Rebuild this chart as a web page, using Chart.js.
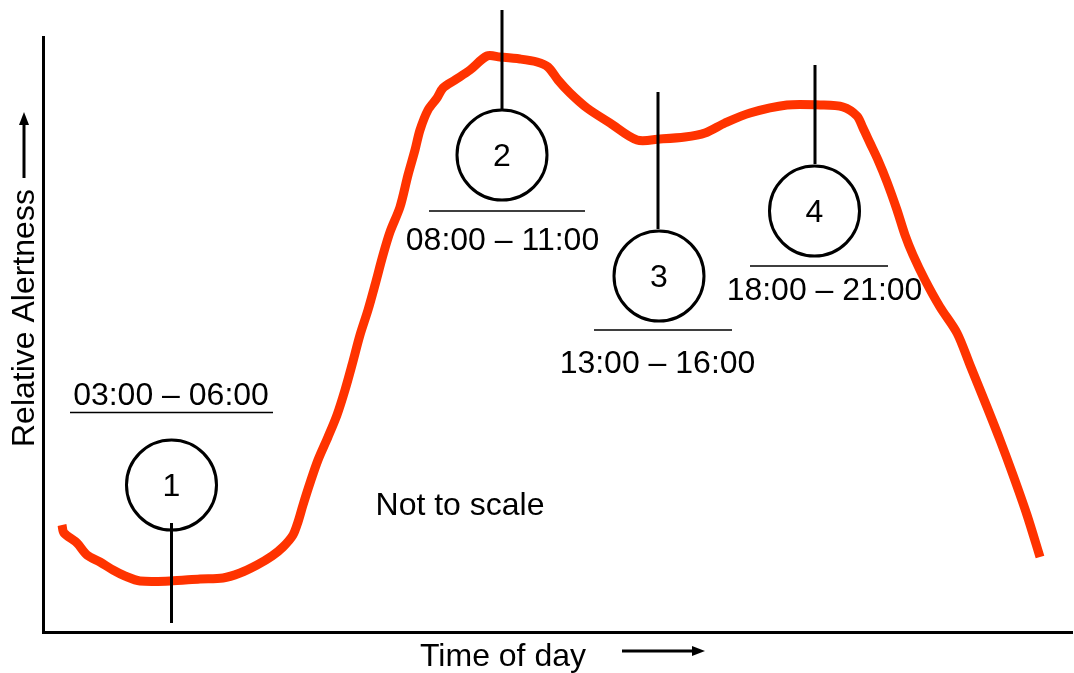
<!DOCTYPE html>
<html>
<head>
<meta charset="utf-8">
<script src="https://cdn.jsdelivr.net/npm/chart.js@4/dist/chart.umd.min.js"></script>
<style>
  html, body { margin: 0; padding: 0; background: #ffffff; }
  canvas { display: block; }
</style>
</head>
<body>
<canvas id="c" width="1074" height="673"></canvas>
<script>
// ---- Data (arbitrary "not to scale" units) ----
const curveX = [19, 21, 34, 44, 57, 70, 82, 97, 127, 157, 180, 197, 214, 229, 240, 250, 255, 260, 267, 275, 285, 294, 302, 309, 317, 325, 332, 340, 347, 357, 365, 372, 377, 385, 394, 400, 412, 427, 444, 457, 477, 494, 505, 515, 527, 544, 567, 594, 617, 642, 662, 682, 707, 744, 777, 800, 814, 820, 827, 835, 844, 854, 862, 870, 882, 897, 914, 927, 944, 957, 970, 984, 997];
const curveY = [107, 99, 89, 77, 70, 62, 56, 51, 51, 53, 54, 59, 67, 76, 85, 97, 110, 127, 149, 172, 195, 217, 242, 267, 297, 322, 347, 377, 400, 425, 457, 482, 502, 522, 534, 544, 552, 562, 576, 575, 573, 570, 565, 552, 539, 524, 509, 492, 493, 495, 499, 509, 519, 527, 527, 525, 516, 504, 489, 472, 450, 422, 397, 377, 352, 325, 299, 267, 225, 192, 157, 117, 75];

const markerNumbers = ['1', '2', '3', '4'];
const markerX = [128.5, 459, 616, 771.5];
const markerY = [147, 477, 356, 421];

const stemX = [128.5, 459, 615, 772];
const stemFrom = [109, 622, 540, 567];
const stemTo = [9, 523, 403, 468];

const windowLabels = ['03:00 – 06:00', '08:00 – 11:00', '13:00 – 16:00', '18:00 – 21:00'];
const labelX = [128, 459.5, 614.5, 781.5];
const labelY = [227, 382, 259, 332];

const underlineStart = [27, 386, 551, 707];
const underlineEnd = [230, 542, 689, 845];
const underlineY = [219.5, 421, 302, 366];

const noteText = 'Not to scale';
const noteX = 417;
const noteY = 117;

const xTitle = 'Time of day';
const yTitle = 'Relative Alertness';

// ---- Build datasets ----
const curveData = curveX.map((x, i) => ({ x: x, y: curveY[i] }));
const circleData = markerX.map((x, i) => ({ x: x, y: markerY[i] }));
const stemData = [];
stemX.forEach((x, i) => {
  stemData.push({ x: x, y: stemFrom[i] });
  stemData.push({ x: x, y: stemTo[i] });
  stemData.push({ x: x, y: null });
});
const underlineData = [];
underlineY.forEach((y, i) => {
  underlineData.push({ x: underlineStart[i], y: y });
  underlineData.push({ x: underlineEnd[i], y: y });
  underlineData.push({ x: underlineEnd[i], y: null });
});

const FONT = "'Liberation Sans', Arial, sans-serif";

const textPlugin = {
  id: 'textPlugin',
  afterDraw(chart) {
    const ctx = chart.ctx;
    const xs = chart.scales.x, ys = chart.scales.y;
    const ca = chart.chartArea;
    ctx.save();
    ctx.fillStyle = '#000';
    ctx.font = '32px ' + FONT;
    // circle numbers
    ctx.textAlign = 'center';
    ctx.textBaseline = 'middle';
    markerNumbers.forEach((t, i) => {
      ctx.fillText(t, xs.getPixelForValue(markerX[i]), ys.getPixelForValue(markerY[i]) + 2);
    });
    // window labels
    ctx.textBaseline = 'alphabetic';
    windowLabels.forEach((t, i) => {
      ctx.fillText(t, xs.getPixelForValue(labelX[i]), ys.getPixelForValue(labelY[i]));
    });
    // note
    ctx.fillText(noteText, xs.getPixelForValue(noteX), ys.getPixelForValue(noteY));

    // x title + arrow
    ctx.textAlign = 'left';
    ctx.fillText(xTitle, ca.left + 377, ca.bottom + 34);
    ctx.strokeStyle = '#000';
    ctx.lineWidth = 3;
    const ay = ca.bottom + 19;
    ctx.beginPath();
    ctx.moveTo(ca.left + 579, ay);
    ctx.lineTo(ca.left + 652, ay);
    ctx.stroke();
    ctx.beginPath();
    ctx.moveTo(ca.left + 662, ay);
    ctx.lineTo(ca.left + 649, ay - 5);
    ctx.lineTo(ca.left + 649, ay + 5);
    ctx.closePath();
    ctx.fill();

    // y title + arrow
    ctx.save();
    ctx.translate(ca.left - 9, ca.bottom - 185);
    ctx.rotate(-Math.PI / 2);
    ctx.textAlign = 'left';
    ctx.textBaseline = 'alphabetic';
    ctx.fillText(yTitle, 0, 0);
    ctx.restore();
    const ax = ca.left - 19;
    ctx.beginPath();
    ctx.moveTo(ax, ca.top + 141);
    ctx.lineTo(ax, ca.top + 84);
    ctx.stroke();
    ctx.beginPath();
    ctx.moveTo(ax, ca.top + 75);
    ctx.lineTo(ax - 5, ca.top + 88);
    ctx.lineTo(ax + 5, ca.top + 88);
    ctx.closePath();
    ctx.fill();
    ctx.restore();
  }
};

new Chart(document.getElementById('c'), {
  type: 'line',
  data: {
    datasets: [
      {
        label: 'Alertness',
        data: curveData,
        borderColor: '#ff3300',
        borderWidth: 9,
        borderCapStyle: 'butt',
        borderJoinStyle: 'round',
        pointRadius: 0,
        tension: 0.3,
        fill: false,
        order: 10
      },
      {
        label: 'Markers',
        data: circleData,
        showLine: false,
        pointRadius: 45,
        pointHoverRadius: 45,
        pointBorderWidth: 3,
        pointBorderColor: '#000',
        pointBackgroundColor: 'rgba(0,0,0,0)',
        clip: false,
        order: 1
      },
      {
        label: 'Stems',
        data: stemData,
        borderColor: '#000',
        borderWidth: 3,
        borderCapStyle: 'butt',
        pointRadius: 0,
        spanGaps: false,
        tension: 0,
        clip: false,
        order: 1
      },
      {
        label: 'Underlines',
        data: underlineData,
        borderColor: '#000',
        borderWidth: 1.5,
        pointRadius: 0,
        spanGaps: false,
        tension: 0,
        order: 1
      }
    ]
  },
  options: {
    responsive: false,
    animation: false,
    events: [],
    layout: { autoPadding: false, padding: { left: 43, top: 37, right: 2, bottom: 41 } },
    plugins: { legend: { display: false }, tooltip: { enabled: false } },
    scales: {
      x: {
        type: 'linear',
        min: 0,
        max: 1029,
        ticks: { display: false },
        grid: { display: false, drawTicks: false },
        border: { display: true, color: '#000', width: 3 }
      },
      y: {
        type: 'linear',
        min: 0,
        max: 595,
        ticks: { display: false },
        grid: { display: false, drawTicks: false },
        border: { display: true, color: '#000', width: 3 }
      }
    }
  },
  plugins: [textPlugin]
});
</script>
</body>
</html>
